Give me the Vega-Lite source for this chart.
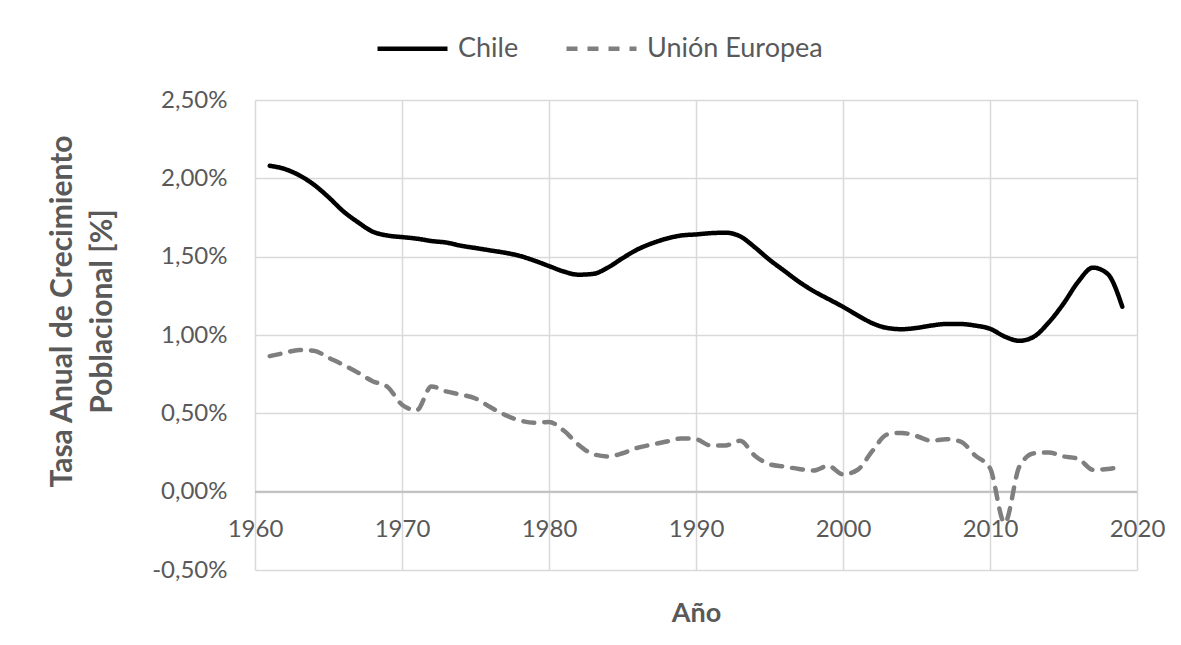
{
  "$schema": "https://vega.github.io/schema/vega-lite/v6.json",
  "width": 882,
  "height": 470,
  "autosize": {"type": "none"},
  "padding": {"left": 255, "top": 100, "right": 44, "bottom": 75},
  "background": "white",
  "config": {"view": {"stroke": null}, "font": "Lato"},
  "datasets": {
    "rows": [
      {"year": 1961, "serie": "Chile", "v": 2.08}, {"year": 1962, "serie": "Chile", "v": 2.06}, {"year": 1963, "serie": "Chile", "v": 2.02},
      {"year": 1964, "serie": "Chile", "v": 1.96}, {"year": 1965, "serie": "Chile", "v": 1.88}, {"year": 1966, "serie": "Chile", "v": 1.79},
      {"year": 1967, "serie": "Chile", "v": 1.72}, {"year": 1968, "serie": "Chile", "v": 1.66}, {"year": 1969, "serie": "Chile", "v": 1.635},
      {"year": 1970, "serie": "Chile", "v": 1.625}, {"year": 1971, "serie": "Chile", "v": 1.615}, {"year": 1972, "serie": "Chile", "v": 1.6},
      {"year": 1973, "serie": "Chile", "v": 1.59}, {"year": 1974, "serie": "Chile", "v": 1.57}, {"year": 1975, "serie": "Chile", "v": 1.555},
      {"year": 1976, "serie": "Chile", "v": 1.54}, {"year": 1977, "serie": "Chile", "v": 1.525}, {"year": 1978, "serie": "Chile", "v": 1.505},
      {"year": 1979, "serie": "Chile", "v": 1.475}, {"year": 1980, "serie": "Chile", "v": 1.44}, {"year": 1981, "serie": "Chile", "v": 1.405},
      {"year": 1982, "serie": "Chile", "v": 1.385}, {"year": 1983, "serie": "Chile", "v": 1.39}, {"year": 1984, "serie": "Chile", "v": 1.43},
      {"year": 1985, "serie": "Chile", "v": 1.49}, {"year": 1986, "serie": "Chile", "v": 1.545}, {"year": 1987, "serie": "Chile", "v": 1.585},
      {"year": 1988, "serie": "Chile", "v": 1.615}, {"year": 1989, "serie": "Chile", "v": 1.635}, {"year": 1990, "serie": "Chile", "v": 1.642},
      {"year": 1991, "serie": "Chile", "v": 1.65}, {"year": 1992, "serie": "Chile", "v": 1.653}, {"year": 1993, "serie": "Chile", "v": 1.63},
      {"year": 1994, "serie": "Chile", "v": 1.56}, {"year": 1995, "serie": "Chile", "v": 1.48}, {"year": 1996, "serie": "Chile", "v": 1.41},
      {"year": 1997, "serie": "Chile", "v": 1.34}, {"year": 1998, "serie": "Chile", "v": 1.28}, {"year": 1999, "serie": "Chile", "v": 1.23},
      {"year": 2000, "serie": "Chile", "v": 1.18}, {"year": 2001, "serie": "Chile", "v": 1.125}, {"year": 2002, "serie": "Chile", "v": 1.075},
      {"year": 2003, "serie": "Chile", "v": 1.045}, {"year": 2004, "serie": "Chile", "v": 1.037}, {"year": 2005, "serie": "Chile", "v": 1.045},
      {"year": 2006, "serie": "Chile", "v": 1.06}, {"year": 2007, "serie": "Chile", "v": 1.07}, {"year": 2008, "serie": "Chile", "v": 1.07},
      {"year": 2009, "serie": "Chile", "v": 1.06}, {"year": 2010, "serie": "Chile", "v": 1.04}, {"year": 2011, "serie": "Chile", "v": 0.99},
      {"year": 2012, "serie": "Chile", "v": 0.963}, {"year": 2013, "serie": "Chile", "v": 0.99}, {"year": 2014, "serie": "Chile", "v": 1.08},
      {"year": 2015, "serie": "Chile", "v": 1.2}, {"year": 2016, "serie": "Chile", "v": 1.34}, {"year": 2017, "serie": "Chile", "v": 1.43},
      {"year": 2018, "serie": "Chile", "v": 1.39}, {"year": 2019, "serie": "Chile", "v": 1.18},
      {"year": 1961, "serie": "Unión Europea", "v": 0.865}, {"year": 1962, "serie": "Unión Europea", "v": 0.885}, {"year": 1963, "serie": "Unión Europea", "v": 0.905},
      {"year": 1964, "serie": "Unión Europea", "v": 0.9}, {"year": 1965, "serie": "Unión Europea", "v": 0.855}, {"year": 1966, "serie": "Unión Europea", "v": 0.81},
      {"year": 1967, "serie": "Unión Europea", "v": 0.76}, {"year": 1968, "serie": "Unión Europea", "v": 0.705}, {"year": 1969, "serie": "Unión Europea", "v": 0.67},
      {"year": 1970, "serie": "Unión Europea", "v": 0.555}, {"year": 1971, "serie": "Unión Europea", "v": 0.52}, {"year": 1972, "serie": "Unión Europea", "v": 0.672},
      {"year": 1973, "serie": "Unión Europea", "v": 0.64}, {"year": 1974, "serie": "Unión Europea", "v": 0.62}, {"year": 1975, "serie": "Unión Europea", "v": 0.595},
      {"year": 1976, "serie": "Unión Europea", "v": 0.54}, {"year": 1977, "serie": "Unión Europea", "v": 0.49}, {"year": 1978, "serie": "Unión Europea", "v": 0.455},
      {"year": 1979, "serie": "Unión Europea", "v": 0.44}, {"year": 1980, "serie": "Unión Europea", "v": 0.445}, {"year": 1981, "serie": "Unión Europea", "v": 0.39},
      {"year": 1982, "serie": "Unión Europea", "v": 0.3}, {"year": 1983, "serie": "Unión Europea", "v": 0.24}, {"year": 1984, "serie": "Unión Europea", "v": 0.225},
      {"year": 1985, "serie": "Unión Europea", "v": 0.245}, {"year": 1986, "serie": "Unión Europea", "v": 0.28}, {"year": 1987, "serie": "Unión Europea", "v": 0.3},
      {"year": 1988, "serie": "Unión Europea", "v": 0.32}, {"year": 1989, "serie": "Unión Europea", "v": 0.34}, {"year": 1990, "serie": "Unión Europea", "v": 0.335},
      {"year": 1991, "serie": "Unión Europea", "v": 0.295}, {"year": 1992, "serie": "Unión Europea", "v": 0.295}, {"year": 1993, "serie": "Unión Europea", "v": 0.325},
      {"year": 1994, "serie": "Unión Europea", "v": 0.23}, {"year": 1995, "serie": "Unión Europea", "v": 0.175}, {"year": 1996, "serie": "Unión Europea", "v": 0.16},
      {"year": 1997, "serie": "Unión Europea", "v": 0.145}, {"year": 1998, "serie": "Unión Europea", "v": 0.135}, {"year": 1999, "serie": "Unión Europea", "v": 0.165},
      {"year": 2000, "serie": "Unión Europea", "v": 0.11}, {"year": 2001, "serie": "Unión Europea", "v": 0.14}, {"year": 2002, "serie": "Unión Europea", "v": 0.26},
      {"year": 2003, "serie": "Unión Europea", "v": 0.365}, {"year": 2004, "serie": "Unión Europea", "v": 0.375}, {"year": 2005, "serie": "Unión Europea", "v": 0.355},
      {"year": 2006, "serie": "Unión Europea", "v": 0.325}, {"year": 2007, "serie": "Unión Europea", "v": 0.335}, {"year": 2008, "serie": "Unión Europea", "v": 0.32},
      {"year": 2009, "serie": "Unión Europea", "v": 0.23}, {"year": 2010, "serie": "Unión Europea", "v": 0.15}, {"year": 2011, "serie": "Unión Europea", "v": -0.2},
      {"year": 2012, "serie": "Unión Europea", "v": 0.16}, {"year": 2013, "serie": "Unión Europea", "v": 0.245}, {"year": 2014, "serie": "Unión Europea", "v": 0.25},
      {"year": 2015, "serie": "Unión Europea", "v": 0.225}, {"year": 2016, "serie": "Unión Europea", "v": 0.21}, {"year": 2017, "serie": "Unión Europea", "v": 0.14},
      {"year": 2018, "serie": "Unión Europea", "v": 0.145}, {"year": 2019, "serie": "Unión Europea", "v": 0.16}
    ],
    "zero": [{"v": 0}]
  },
  "encoding": {
    "y": {
      "field": "v",
      "type": "quantitative",
      "scale": {"domain": [-0.5, 2.5], "nice": false, "zero": false},
      "axis": {
        "values": [-0.5, 0, 0.5, 1, 1.5, 2, 2.5],
        "labelExpr": "(datum.value < 0 ? '-' : '') + replace(format(abs(datum.value), '.2f'), '.', ',') + '%'",
        "title": ["Tasa Anual de Crecimiento", "Poblacional [%]"],
        "titleAngle": -90,
        "titleX": -193,
        "titleY": 211,
        "titleAlign": "center",
        "titleBaseline": "middle",
        "titleLineHeight": 40,
        "titleFontSize": 30,
        "titleFontWeight": "bold",
        "titleColor": "#595959",
        "labelFontSize": 24,
        "labelColor": "#595959",
        "labelPadding": 28,
        "ticks": false,
        "tickSize": 0,
        "domain": false,
        "grid": true,
        "gridColor": "#d9d9d9",
        "gridWidth": 1.5
      }
    }
  },
  "layer": [
    {
      "data": {"name": "zero"},
      "mark": {"type": "rule", "color": "#bfbfbf", "strokeWidth": 2},
      "encoding": {}
    },
    {
      "data": {"name": "rows"},
      "mark": {"type": "line", "interpolate": "monotone", "strokeWidth": 4.5, "strokeCap": "round"},
      "encoding": {
        "x": {
          "field": "year",
          "type": "quantitative",
          "scale": {"domain": [1960, 2020], "nice": false, "zero": false},
          "axis": {
            "values": [1960, 1970, 1980, 1990, 2000, 2010, 2020],
            "format": "d",
            "title": "Año",
            "titleFontSize": 27,
            "titleFontWeight": "bold",
            "titleColor": "#595959",
            "titleY": 43,
            "titleBaseline": "middle",
            "labelFontSize": 24,
            "labelColor": "#595959",
            "labelPadding": -41,
            "labelBaseline": "middle",
            "labelFlush": false,
            "labelOverlap": false,
            "ticks": false,
            "tickSize": 0,
            "domain": false,
            "grid": true,
            "gridColor": "#d9d9d9",
            "gridWidth": 1.5
          }
        },
        "color": {
          "field": "serie",
          "type": "nominal",
          "scale": {"domain": ["Chile", "Unión Europea"], "range": ["#000000", "#7f7f7f"]},
          "legend": {
            "orient": "none",
            "legendX": 120,
            "legendY": -89,
            "direction": "horizontal",
            "title": null,
            "symbolType": "stroke",
            "symbolSize": 4900,
            "symbolStrokeWidth": 4.5,
            "labelFontSize": 27,
            "labelLimit": 400,
            "labelColor": "#595959",
            "labelOffset": 8,
            "columnPadding": 38
          }
        },
        "strokeDash": {
          "field": "serie",
          "type": "nominal",
          "scale": {"domain": ["Chile", "Unión Europea"], "range": [[1, 0], [11, 10]]},
          "legend": {
            "orient": "none",
            "legendX": 120,
            "legendY": -89,
            "direction": "horizontal",
            "title": null,
            "symbolType": "stroke",
            "symbolSize": 4900,
            "symbolStrokeWidth": 4.5,
            "labelFontSize": 27,
            "labelLimit": 400,
            "labelColor": "#595959",
            "labelOffset": 8,
            "columnPadding": 38
          }
        }
      }
    }
  ]
}
